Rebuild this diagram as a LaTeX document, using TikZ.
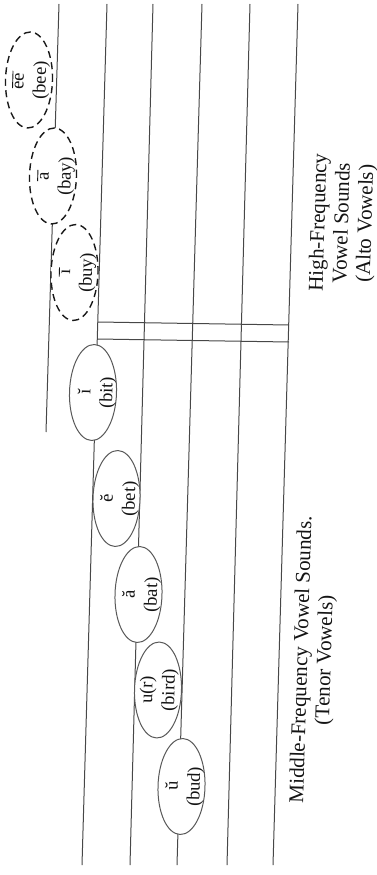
\documentclass[tikz,border=0pt]{standalone}
\usepackage{fontspec}
\setmainfont{Liberation Serif}
\usetikzlibrary{shapes.geometric,calc}
% long mark over a vowel
\newcommand{\longmark}[1]{\leavevmode\vbox{\hrule height 0.9pt\kern 1.8pt\hbox{#1}}}
\begin{document}
\begin{tikzpicture}[x=1pt,y=-1pt,
  staffline/.style={draw=black!72, line width=1pt},
  barline/.style={draw=black!72, line width=1pt},
  notebase/.style={ellipse, fill=white, minimum width=47pt, minimum height=96pt,
                   inner sep=0pt, rotate=-1.7},
  shortnote/.style={notebase, draw=black!65, line width=1pt},
  longnote/.style={notebase, draw=black!90, line width=1.4pt, dash pattern=on 7pt off 4.5pt},
  vowel/.style={font=\fontsize{18.5}{22}\selectfont, align=center, inner sep=0pt,
                rotate=88.3, text=black!92},
  caption/.style={font=\fontsize{21}{23.5}\selectfont, align=center, inner sep=0pt,
                  rotate=88.3, text=black!92}]
\useasboundingbox (0,0) rectangle (376,875);

% staff lines
\coordinate (l1a) at (59,4);   \coordinate (l1b) at (46,432);
\coordinate (l2a) at (107,4);  \coordinate (l2b) at (82,865);
\coordinate (l3a) at (153,4);  \coordinate (l3b) at (130,865);
\coordinate (l4a) at (202,4);  \coordinate (l4b) at (177,865);
\coordinate (l5a) at (250,4);  \coordinate (l5b) at (227,865);
\coordinate (l6a) at (298,4);  \coordinate (l6b) at (273,865);
\foreach \i in {1,...,6} \draw[staffline] (l\i a) -- (l\i b);

% double bar
\coordinate (b1a) at (97.8,322); \coordinate (b1b) at (289,325);
\coordinate (b2a) at (97.3,339); \coordinate (b2b) at (289,342);
\draw[barline] (b1a) -- (b1b);
\draw[barline] (b2a) -- (b2b);

% long vowels
\node[longnote] (bee) at (29,80) {};
\node[longnote] (bay) at (53,176) {};
\node[longnote] (buy) at (74.5,272.5) {};
% short vowels
\node[shortnote] (bit)  at (93,392.5) {};
\node[shortnote] (bet)  at (116.5,498.5) {};
\node[shortnote] (bat)  at (138.5,594.5) {};
\node[shortnote] (bird) at (158,690) {};
\node[shortnote] (bud)  at (181.5,786.5) {};

\node[vowel] (beetxt)  at ($(bee)+(2,0)$)  {\longmark{\kern-1pt ee\kern2pt}\\(bee)};
\node[vowel] (baytxt)  at ($(bay)+(3,0)$)  {\longmark{\kern1pt a\kern2pt}\\(bay)};
\node[vowel] (buytxt)  at ($(buy)+(3,0)$)  {\longmark{\kern2pt ı\kern2pt}\\(buy)};
\node[vowel] (bittxt)  at ($(bit)+(4,0)$)  {ĭ\\(bit)};
\node[vowel] (bettxt)  at ($(bet)+(3,0)$)  {ĕ\\(bet)};
\node[vowel] (battxt)  at ($(bat)+(3,0)$)  {ă\\(bat)};
\node[vowel] (birdtxt) at ($(bird)+(1,0)$) {u(r)\\(bird)};
\node[vowel] (budtxt)  at ($(bud)+(3,0)$)  {ŭ\\(bud)};

% captions
\node[caption] (high) at (343,223) {High-Frequency\\Vowel Sounds\\(Alto Vowels)};
\node[caption] (middle) at (314,660) {Middle-Frequency Vowel Sounds.\\(Tenor Vowels)};
\end{tikzpicture}
\end{document}
